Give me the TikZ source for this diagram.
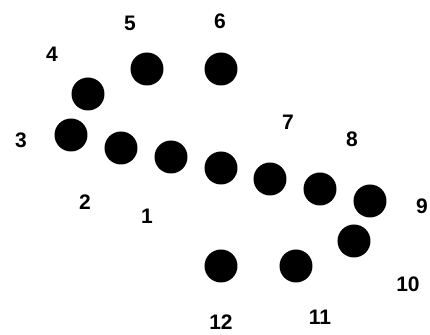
\documentclass[tikz,border=0pt]{standalone}
\usepackage{fontspec}
\setmainfont{Liberation Sans}
\usetikzlibrary{positioning}
\definecolor{cInk}{HTML}{000000}
\tikzset{
  dot/.style={circle,fill=cInk,draw=none,minimum size=16.5pt,inner sep=0pt},
  num/.style={font=\fontsize{10.5}{12}\selectfont\bfseries,text=cInk,inner sep=0pt}
}

\begin{document}
\begin{tikzpicture}[x=0.5pt,y=-0.5pt]
  \clip (0,0) rectangle (430,335);
  \useasboundingbox (0,0) rectangle (430,335);
  \fill[white] (0,0) rectangle (430,335);

  % the dots
  \node[dot] (d4) at (88,94) {};
  \node[dot] (d5) at (147,69) {};
  \node[dot] (d6) at (221,69) {};
  \node[dot] (d3) at (71,135) {};
  \node[dot] (d2) at (121,148) {};
  \node[dot] (d1) at (171,157) {};
  \node[dot] (dmid) at (221,168) {};
  \node[dot] (d7) at (270,179) {};
  \node[dot] (d8) at (320,189) {};
  \node[dot] (d9) at (370,201) {};
  \node[dot] (d10) at (354,241) {};
  \node[dot] (d11) at (296,266) {};
  \node[dot] (d12) at (221,266) {};

  % the numbers
  \node[num] (n1) at (147,216) {1};
  \node[num] (n2) at (85,202) {2};
  \node[num] (n3) at (21,140) {3};
  \node[num] (n4) at (52,54) {4};
  \node[num] (n5) at (130,23) {5};
  \node[num] (n6) at (220,21) {6};
  \node[num] (n7) at (288,122) {7};
  \node[num] (n8) at (352,139) {8};
  \node[num] (n9) at (422,206) {9};
  \node[num] (n10) at (408,284) {10};
  \node[num] (n11) at (320,317) {11};
  \node[num] (n12) at (221,322) {12};
\end{tikzpicture}
\end{document}
